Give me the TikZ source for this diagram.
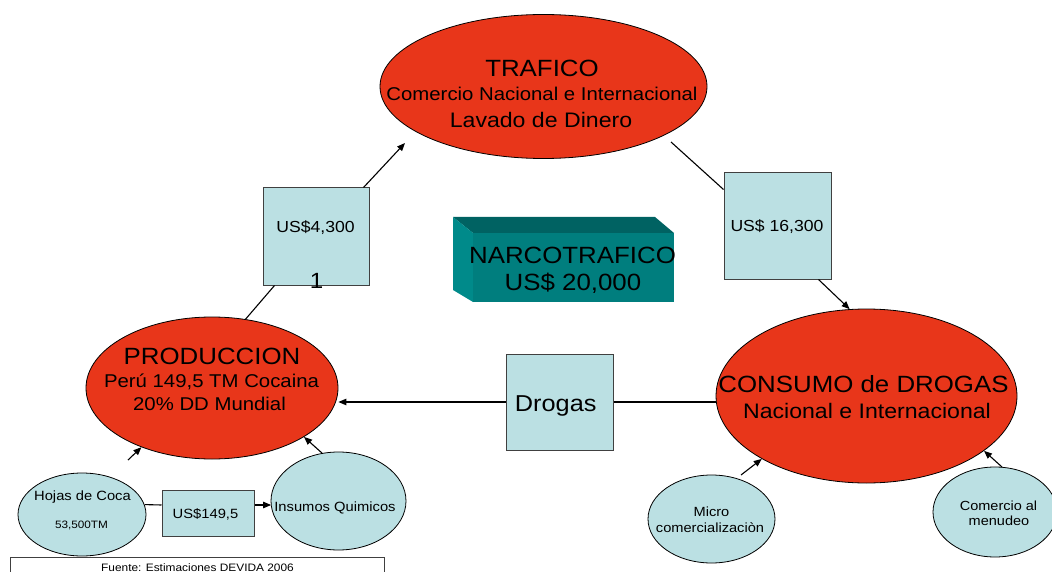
\documentclass[tikz,border=0pt]{standalone}
\usepackage{fontspec}
\setmainfont{Liberation Sans}[FakeStretch=1.1]
\usetikzlibrary{arrows.meta,calc,shapes.geometric}
\definecolor{rojo}{RGB}{232,54,26}
\definecolor{celeste}{RGB}{187,224,227}
\definecolor{tealF}{RGB}{0,126,126}
\definecolor{tealT}{RGB}{0,98,98}
\definecolor{tealS}{RGB}{0,138,138}
\newcommand\fsz[1]{\fontsize{#1}{#1}\selectfont}
\begin{document}
\begin{tikzpicture}[x=1pt,y=-1pt,
  bigell/.style={ellipse, draw=black, line width=0.8pt, fill=rojo, inner sep=0pt},
  smallell/.style={ellipse, draw=black, line width=0.8pt, fill=celeste, inner sep=0pt},
  valbox/.style={rectangle, draw=black!75, line width=1pt, fill=celeste, inner sep=0pt},
  txt/.style={anchor=base, inner sep=0pt, text=black},
  conn/.style={line width=1.1pt, black},
  arr/.style={conn, -{Triangle[length=8pt,width=6.5pt]}}]
\useasboundingbox (0,0) rectangle (1052,572);
\clip (0,0) rectangle (1052,572);

% main ellipses
\node[bigell, minimum width=327pt, minimum height=144pt] (traf) at (543.5,86.5) {};
\node[bigell, minimum width=252pt, minimum height=142pt] (prod) at (212,388) {};
\node[bigell, minimum width=301pt, minimum height=174pt] (cons) at (866.5,396) {};

% value boxes
\node[valbox, minimum width=106pt, minimum height=97pt] (b1) at (316,236.5) {};
\node[valbox, minimum width=107pt, minimum height=106pt] (b2) at (777.5,226) {};
\node[valbox, minimum width=107pt, minimum height=96pt] (drog) at (559.5,402) {};
\node[valbox, minimum width=92pt, minimum height=46pt] (b3) at (208,513) {};

% small ellipses
\node[smallell, minimum width=128pt, minimum height=83pt] (hoja) at (82,514.5) {};
\node[smallell, minimum width=135pt, minimum height=98pt] (insu) at (338.5,501) {};
\node[smallell, minimum width=127pt, minimum height=88pt] (micro) at (711.5,519) {};
\node[smallell, minimum width=124pt, minimum height=90pt] (come) at (995,512) {};

% source box
\node[draw=black!75, line width=0.8pt, minimum width=374pt, minimum height=30pt,
      anchor=north west, inner sep=0pt] (fuente) at (10,557) {};

% 3D block
\fill[tealT] (453,217) -- (655,217) -- (674,233) -- (473,233) -- cycle;
\fill[tealS] (453,217) -- (473,233) -- (473,302) -- (453,290) -- cycle;
\fill[tealF] (473,233) rectangle (674,302);

% free connector ends
\coordinate (tA) at (405,143);
\coordinate (sT) at (671,142);
\coordinate (sH) at (128,460);
\coordinate (sM) at (741,475);
\coordinate (sC) at (1002,467);

% connectors
\draw[conn] (prod.64) -- ($(b1.south west)+(12,0)$);
\draw[arr] ($(b1.north east)+(-6,0)$) -- (tA);
\draw[conn] (sT) -- ($(b2.north west)+(0,17)$);
\draw[arr] ($(b2.south east)+(-13,0)$) -- (cons.101);
\draw[conn] (drog.east) -- (drog.east -| cons.west);
\draw[arr] (drog.west) -- (drog.west -| prod.east);
\draw[arr] (sH) -- (prod.220);
\draw[arr] (insu.109) -- (prod.-28);
\draw[arr] (sM) -- (cons.211);
\draw[arr] (sC) -- (cons.-25);
\draw[conn] (hoja.9) -- ($(b3.west)+(0,-8)$);
\draw[arr] ($(b3.east)+(0,-8)$) -- ($(insu.west)+(0.5,4)$);

% texts
\node[txt, font=\fsz{23.5}] (trafT1) at (542,77) {TRAFICO};
\node[txt, font=\fsz{18.5}] (trafT2) at (542,101) {Comercio Nacional e Internacional};
\node[txt, font=\fsz{21}] (trafT3) at (541,128) {Lavado de Dinero};
\node[txt, font=\fsz{23.5}] (prodT1) at (212,364) {PRODUCCION};
\node[txt, font=\fsz{18.5}] (prodT2) at (211.5,387) {Perú 149,5 TM Cocaina};
\node[txt, font=\fsz{18.5}] (prodT3) at (209.5,410) {20\% DD Mundial};
\node[txt, font=\fsz{23.5}] (consT1) at (863.5,392) {CONSUMO de DROGAS};
\node[txt, font=\fsz{21}] (consT2) at (867,418) {Nacional e Internacional};
\node[txt, font=\fsz{23.5}] (narT1) at (572.5,263) {NARCOTRAFICO};
\node[txt, font=\fsz{23.5}] (narT2) at (573,290) {US\$ 20,000};
\node[txt, font=\fsz{16}] (b1T) at (315.5,233) {US\$4,300};
\node[txt, font=\fsz{22}] (b1N) at (316.5,288) {1};
\node[txt, font=\fsz{16}] (b2T) at (777,232) {US\$ 16,300};
\node[txt, font=\fsz{23}] (drogT) at (555.7,411) {Drogas};
\node[txt, font=\fsz{13.4}] (hojaT1) at (82.5,500) {Hojas de Coca};
\node[txt, font=\fsz{10.7}] (hojaT2) at (81.5,528) {53,500TM};
\node[txt, font=\fsz{13.4}] (b3T) at (205.5,518) {US\$149,5};
\node[txt, font=\fsz{13.4}] (insuT) at (335,511) {Insumos Quimicos};
\node[txt, font=\fsz{13.3}] (microT1) at (711.5,516) {Micro};
\node[txt, font=\fsz{13.3}] (microT2) at (710,532) {comercializaciòn};
\node[txt, font=\fsz{13.2}] (comeT1) at (998.5,510) {Comercio al};
\node[txt, font=\fsz{13.2}] (comeT2) at (999,525) {menudeo};
\node[txt, font=\fsz{10.8}] (fuenteT) at (197.5,571.5) {Fuente: Estimaciones DEVIDA 2006};
\end{tikzpicture}
\end{document}
